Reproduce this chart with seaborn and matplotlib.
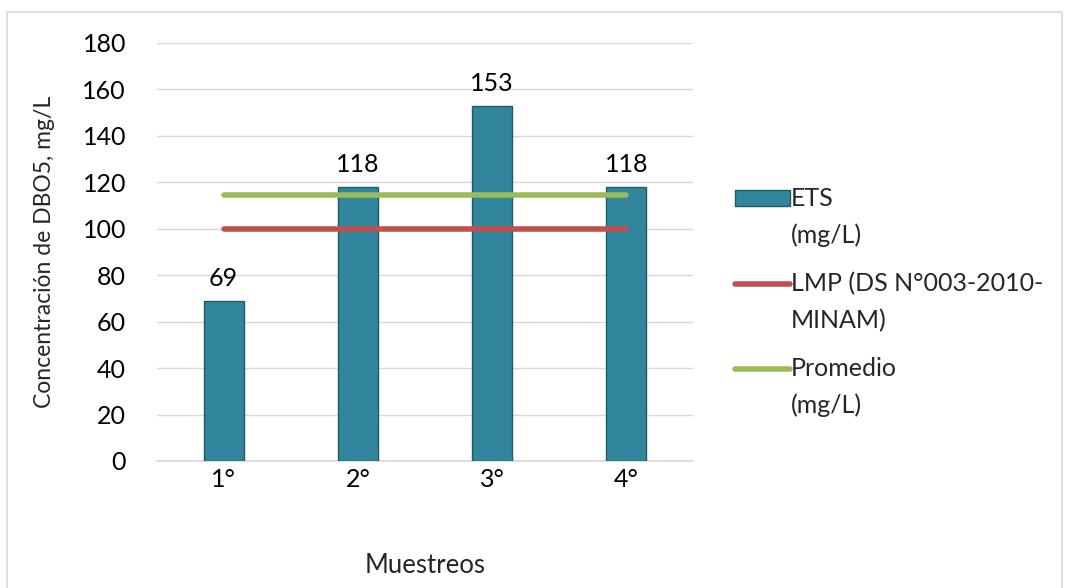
import matplotlib
matplotlib.use("Agg")
import matplotlib.pyplot as plt
import seaborn as sns
import pandas as pd
from matplotlib.patches import Rectangle
from matplotlib.lines import Line2D
from matplotlib.legend_handler import HandlerLine2D, HandlerPatch

# --- DATA ---
muestreos = ["1°", "2°", "3°", "4°"]
ets = [69, 118, 153, 118]
lmp = [100, 100, 100, 100]
promedio = [114.5, 114.5, 114.5, 114.5]

BAR_COLOR = "#31859C"
LMP_COLOR = "#C0504D"
PROM_COLOR = "#9BBB59"

sns.set_theme(style="white")
plt.rcParams["font.family"] = ["Lato", "DejaVu Sans"]

df = pd.DataFrame({"Muestreo": muestreos, "ETS": ets, "LMP": lmp, "Promedio": promedio})

# legend handles aligned with the first line of two-line labels
PATCH_SHIFT = 14
LINE_SHIFT = 28


class ShiftedLine(HandlerLine2D):
    def create_artists(self, legend, orig_handle, xdescent, ydescent, width, height, fontsize, trans):
        return super().create_artists(legend, orig_handle, xdescent, ydescent - LINE_SHIFT,
                                      width, height, fontsize, trans)


class ShiftedPatch(HandlerPatch):
    def create_artists(self, legend, orig_handle, xdescent, ydescent, width, height, fontsize, trans):
        return super().create_artists(legend, orig_handle, xdescent, ydescent - PATCH_SHIFT,
                                      width, height, fontsize, trans)


fig = plt.figure(figsize=(10.65, 5.88), dpi=100)
ax = fig.add_axes([0.147, 0.216, 0.504, 0.711])

# outer chart border
fig.patches.append(Rectangle((0.007, -0.01), 0.99, 0.99, transform=fig.transFigure,
                             fill=False, edgecolor="#D9D9D9", linewidth=1.2))

sns.barplot(data=df, x="Muestreo", y="ETS", order=muestreos, color=BAR_COLOR,
            width=0.3, saturation=1, edgecolor="#215968", linewidth=1.0,
            errorbar=None, ax=ax, zorder=3)
sns.lineplot(data=df, x="Muestreo", y="LMP", color=LMP_COLOR, linewidth=4,
             ax=ax, zorder=4)
sns.lineplot(data=df, x="Muestreo", y="Promedio", color=PROM_COLOR, linewidth=4,
             ax=ax, zorder=4)

for i, v in enumerate(ets):
    ax.annotate(str(v), (i, v), xytext=(0, 8), textcoords="offset points",
                ha="center", va="bottom", fontsize=18, color="black")

ax.set_ylim(0, 180)
ax.set_xlim(-0.5, 3.5)
ax.set_yticks(range(0, 181, 20))
ax.yaxis.grid(True, color="#D9D9D9", linewidth=1)
ax.set_axisbelow(True)
for s in ["top", "right", "left"]:
    ax.spines[s].set_visible(False)
ax.spines["bottom"].set_color("#D9D9D9")
ax.tick_params(axis="both", labelsize=18, colors="black", length=0)
ax.tick_params(axis="y", pad=22)
ax.tick_params(axis="x", pad=5)
ax.set_xlabel("Muestreos", fontsize=18.5, labelpad=45)
ax.set_ylabel("Concentración de DBO5, mg/L", fontsize=16.5, labelpad=20)

bars = ax.patches[0]
lines = ax.get_lines()
leg = ax.legend([bars, lines[-2], lines[-1]],
                ["ETS\n(mg/L)", "LMP (DS N°003-2010-\nMINAM)", "Promedio\n(mg/L)"],
                handler_map={Rectangle: ShiftedPatch(), Line2D: ShiftedLine()},
                loc="center left", bbox_to_anchor=(1.035, 0.38), frameon=False,
                fontsize=18, handlelength=2.2, handleheight=0.6, handletextpad=0.05,
                labelspacing=1.0)
for t in leg.get_texts():
    t.set_linespacing(1.7)

fig.savefig("out.png", dpi=100)
